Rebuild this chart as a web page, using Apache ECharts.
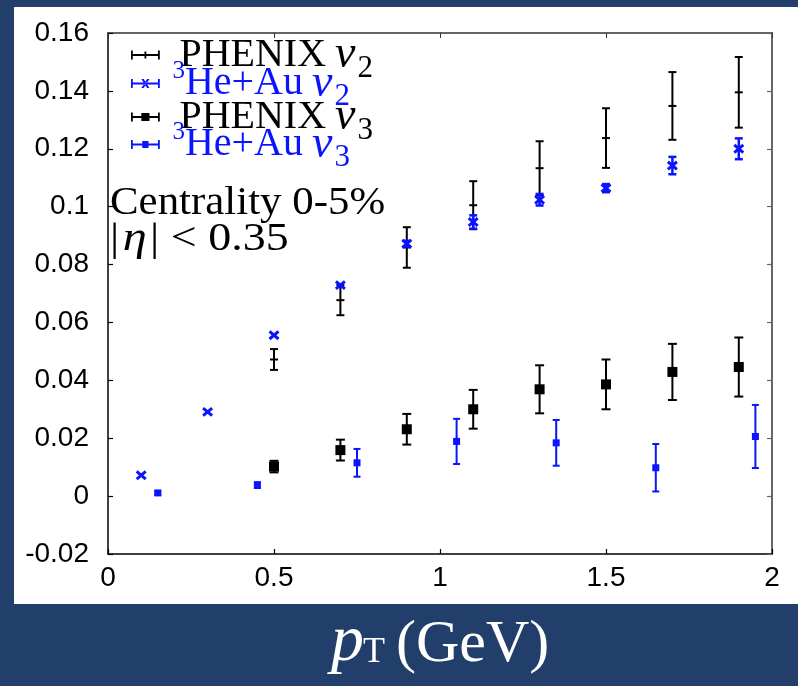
<!DOCTYPE html>
<html>
<head>
<meta charset="utf-8">
<script src="https://cdn.jsdelivr.net/npm/echarts@6/dist/echarts.min.js"></script>
<style>
html,body{margin:0;padding:0;background:#223f6b;}
#chart{width:798px;height:686px;}
</style>
</head>
<body>
<div id="chart"></div>
<script>
// ---- data ----
const xTickLabels = ['0', '0.5', '1', '1.5', '2'];
const yTickLabels = ['-0.02', '0', '0.02', '0.04', '0.06', '0.08', '0.1', '0.12', '0.14', '0.16'];

const phenixV2X = [0.5, 0.7, 0.9, 1.1, 1.3, 1.5, 1.7, 1.9];
const phenixV2Y = [0.0472, 0.0677, 0.0859, 0.1005, 0.1133, 0.1237, 0.1348, 0.1395];
const phenixV2Err = [0.0036, 0.0052, 0.0070, 0.0083, 0.0093, 0.0103, 0.0117, 0.0122];

const heV2X = [0.1, 0.3, 0.5, 0.7, 0.9, 1.1, 1.3, 1.5, 1.7, 1.9];
const heV2Y = [0.0072, 0.0291, 0.0556, 0.0729, 0.0872, 0.0947, 0.1024, 0.1064, 0.1142, 0.1200];
const heV2Err = [0, 0, 0, 0, 0.0010, 0.0023, 0.0020, 0.0014, 0.0030, 0.0036];

const phenixV3X = [0.5, 0.7, 0.9, 1.1, 1.3, 1.5, 1.7, 1.9];
const phenixV3Y = [0.0102, 0.0159, 0.0231, 0.0300, 0.0369, 0.0386, 0.0429, 0.0446];
const phenixV3Err = [0.0020, 0.0036, 0.0053, 0.0067, 0.0083, 0.0086, 0.0097, 0.0102];

const heV3X = [0.15, 0.45, 0.75, 1.05, 1.35, 1.65, 1.95];
const heV3Y = [0.0011, 0.0038, 0.0115, 0.0189, 0.0184, 0.0098, 0.0206];
const heV3Err = [0.0006, 0.0010, 0.0048, 0.0078, 0.0079, 0.0082, 0.0109];

const seriesNames = ['PHENIX v2', '3He+Au v2', 'PHENIX v3', '3He+Au v3'];

// ---- helpers ----
const BLUE = '#0a14ff';
function rows(xs, ys, es) { return xs.map((x, i) => [x, ys[i], es[i]]); }

function makeRender(kind, color, capW, lw, size) {
  return function (params, api) {
    const x = api.value(0), y = api.value(1), e = api.value(2);
    const c = api.coord([x, y]);
    const t = api.coord([x, y + e]);
    const b = api.coord([x, y - e]);
    const st = { stroke: color, lineWidth: lw, fill: null };
    const ch = [];
    if (e > 0) {
      ch.push({ type: 'line', shape: { x1: c[0], y1: t[1], x2: c[0], y2: b[1] }, style: st });
      ch.push({ type: 'line', shape: { x1: c[0] - capW / 2, y1: t[1], x2: c[0] + capW / 2, y2: t[1] }, style: st });
      ch.push({ type: 'line', shape: { x1: c[0] - capW / 2, y1: b[1], x2: c[0] + capW / 2, y2: b[1] }, style: st });
    }
    const h = size / 2;
    if (kind === 'tick') {
      ch.push({ type: 'line', shape: { x1: c[0] - h, y1: c[1], x2: c[0] + h, y2: c[1] }, style: st });
    } else if (kind === 'cross') {
      const cs = { stroke: color, lineWidth: 3, fill: null };
      ch.push({ type: 'line', shape: { x1: c[0] - h, y1: c[1] - h * 0.85, x2: c[0] + h, y2: c[1] + h * 0.85 }, style: cs });
      ch.push({ type: 'line', shape: { x1: c[0] - h, y1: c[1] + h * 0.85, x2: c[0] + h, y2: c[1] - h * 0.85 }, style: cs });
    } else if (kind === 'square') {
      ch.push({ type: 'rect', shape: { x: c[0] - h, y: c[1] - h, width: size, height: size }, style: { fill: color } });
    }
    return { type: 'group', children: ch };
  };
}

const legendIcons = [
  'path://M0,4h32v2h-32z M0,0h2v10h-2z M30,0h2v10h-2z M15,1h2v8h-2z',
  'path://M0,4h32v2h-32z M0,0h2v10h-2z M30,0h2v10h-2z M11.5,0h2.6l6.4,10h-2.6z M20.5,0h-2.6l-6.4,10h2.6z',
  'path://M0,4h32v2h-32z M0,0h2v10h-2z M30,0h2v10h-2z M11.5,0.5h9v9h-9z',
  'path://M0,4h32v2h-32z M0,0h2v10h-2z M30,0h2v10h-2z M12.5,1h7v8h-7z'
];

const SERIF = 'Liberation Serif';
const LH = 31;
const legendRich = {
  k: { color: '#000', fontFamily: SERIF, fontSize: 40, lineHeight: LH, height: LH, padding: [0, 0, 0, 13] },
  b: { color: BLUE, fontFamily: SERIF, fontSize: 40, lineHeight: LH, height: LH },
  sup: { color: BLUE, fontFamily: SERIF, fontSize: 25, lineHeight: LH, height: 7, verticalAlign: 'top', padding: [0, 0, 0, 6] },
  vk: { color: '#000', fontFamily: SERIF, fontStyle: 'italic', fontSize: 46, lineHeight: LH, height: LH, padding: [0, 0, 0, 9] },
  vb: { color: BLUE, fontFamily: SERIF, fontStyle: 'italic', fontSize: 46, lineHeight: LH, height: LH, padding: [0, 0, 0, 9] },
  sk: { color: '#000', fontFamily: SERIF, fontSize: 31, lineHeight: LH, height: 4, verticalAlign: 'bottom', padding: [0, 0, 0, 2] },
  sb: { color: BLUE, fontFamily: SERIF, fontSize: 31, lineHeight: LH, height: 4, verticalAlign: 'bottom', padding: [0, 0, 0, 2] }
};
const legendText = {
  'PHENIX v2': '{k|PHENIX}{vk|v}{sk|2}',
  '3He+Au v2': '{sup|3}{b|He+Au}{vb|v}{sb|2}',
  'PHENIX v3': '{k|PHENIX}{vk|v}{sk|3}',
  '3He+Au v3': '{sup|3}{b|He+Au}{vb|v}{sb|3}'
};
const legendRowTops = [32, 59, 94, 120];

const chart = echarts.init(document.getElementById('chart'), null, { renderer: 'canvas' });

const option = {
  backgroundColor: '#223f6b',
  animation: false,
  grid: { left: 108, top: 33, right: 26, bottom: 132, containLabel: false },
  xAxis: [
    {
      type: 'value', min: 0, max: 2, interval: 0.5, position: 'bottom',
      axisLine: { onZero: false, lineStyle: { color: '#000', width: 1.5 } },
      axisTick: { inside: true, length: 5, lineStyle: { color: '#000', width: 1.2 } },
      axisLabel: {
        color: '#000', fontSize: 28, fontFamily: 'Liberation Sans', margin: 10,
        formatter: v => xTickLabels[Math.round(v / 0.5)]
      },
      splitLine: { show: false }
    },
    {
      type: 'value', min: 0, max: 2, interval: 0.5, position: 'top',
      axisLine: { onZero: false, lineStyle: { color: '#333', width: 1.5 } },
      axisTick: { inside: true, length: 5, lineStyle: { color: '#333' } },
      axisLabel: { show: false }, splitLine: { show: false }
    }
  ],
  yAxis: [
    {
      type: 'value', min: -0.02, max: 0.16, interval: 0.02, position: 'left',
      axisLine: { onZero: false, lineStyle: { color: '#000', width: 1.5 } },
      axisTick: { inside: true, length: 5, lineStyle: { color: '#000', width: 1.2 } },
      axisLabel: {
        color: '#000', fontSize: 28, fontFamily: 'Liberation Sans', margin: 19,
        formatter: v => yTickLabels[Math.round((v + 0.02) / 0.02)]
      },
      splitLine: { show: false }
    },
    {
      type: 'value', min: -0.02, max: 0.16, interval: 0.02, position: 'right',
      axisLine: { onZero: false, lineStyle: { color: '#666', width: 2 } },
      axisTick: { inside: true, length: 5, lineStyle: { color: '#666', width: 1.2 } },
      axisLabel: { show: false }, splitLine: { show: false }
    }
  ],
  legend: seriesNames.map((name, i) => ({
    orient: 'vertical', left: 131, top: legendRowTops[i], padding: 0, itemGap: 0,
    itemWidth: 32, itemHeight: 9,
    selectedMode: false,
    data: [{ name: name, icon: legendIcons[i] }],
    formatter: n => legendText[n],
    textStyle: { lineHeight: LH, rich: legendRich }
  })),
  graphic: [
    { type: 'rect', z: -100, silent: true, shape: { x: 14, y: 7, width: 784, height: 597 }, style: { fill: '#ffffff' } },
    { type: 'text', left: 110, top: 184, z: 100, scaleX: 1.1, style: { text: 'Centrality 0-5%', fill: '#000', font: '39px "Liberation Serif"' } },
    {
      type: 'text', left: 110, top: 218, z: 100, scaleX: 1.15,
      style: {
        text: '{n||}{e|η}{n|| < 0.35}', fill: '#000',
        rich: {
          n: { fontFamily: SERIF, fontSize: 40, color: '#000' },
          e: { fontFamily: SERIF, fontStyle: 'italic', fontSize: 42, color: '#000', padding: [0, 3, 0, 3] }
        }
      }
    },
    { type: 'text', x: 331, y: 643, z: 100, style: { text: 'p', fill: '#fff', font: 'italic 66px "Liberation Serif"', verticalAlign: 'middle', align: 'left' } },
    { type: 'text', x: 363, y: 653, z: 100, style: { text: 'T', fill: '#fff', font: '36px "Liberation Serif"', verticalAlign: 'middle', align: 'left' } },
    { type: 'text', x: 396, y: 645, z: 100, style: { text: '(GeV)', fill: '#fff', font: '60px "Liberation Serif"', verticalAlign: 'middle', align: 'left' } }
  ],
  series: [
    {
      name: seriesNames[0], type: 'custom', xAxisIndex: 0, yAxisIndex: 0,
      itemStyle: { color: '#000' },
      renderItem: makeRender('tick', '#000', 8, 2, 8),
      data: rows(phenixV2X, phenixV2Y, phenixV2Err), z: 3
    },
    {
      name: seriesNames[1], type: 'custom', xAxisIndex: 0, yAxisIndex: 0,
      itemStyle: { color: BLUE },
      renderItem: makeRender('cross', BLUE, 8, 2.5, 9),
      data: rows(heV2X, heV2Y, heV2Err), z: 4
    },
    {
      name: seriesNames[2], type: 'custom', xAxisIndex: 0, yAxisIndex: 0,
      itemStyle: { color: '#000' },
      renderItem: makeRender('square', '#000', 9, 2, 10),
      data: rows(phenixV3X, phenixV3Y, phenixV3Err), z: 3
    },
    {
      name: seriesNames[3], type: 'custom', xAxisIndex: 0, yAxisIndex: 0,
      itemStyle: { color: BLUE },
      renderItem: makeRender('square', BLUE, 7, 2, 7),
      data: rows(heV3X, heV3Y, heV3Err), z: 4
    }
  ]
};
chart.setOption(option);
</script>
</body>
</html>
